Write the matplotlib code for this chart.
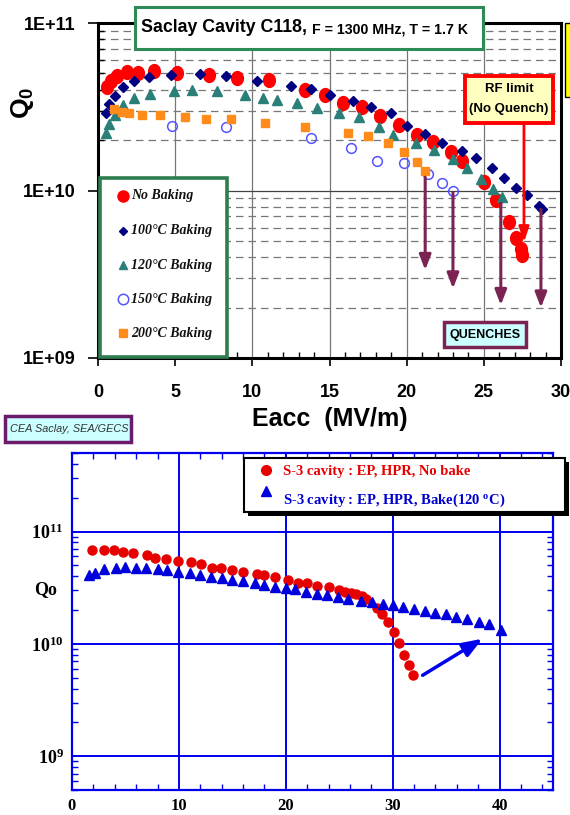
import numpy as np
import matplotlib
matplotlib.use('Agg')
import matplotlib.pyplot as plt
from matplotlib.patches import Rectangle
from matplotlib.lines import Line2D
from matplotlib.ticker import LogLocator, MultipleLocator, NullFormatter
from matplotlib.path import Path
from matplotlib.transforms import Affine2D

plt.rcParams['font.family'] = ['Liberation Sans', 'DejaVu Sans']
plt.rcParams['mathtext.fontset'] = 'custom'
plt.rcParams['mathtext.rm'] = 'Liberation Serif:bold'
plt.rcParams['mathtext.bf'] = 'Liberation Sans:bold'

# ---------------- data: top chart (Saclay C118) ----------------
nobake_x = [0.6, 0.85, 1.25, 1.9, 2.6, 3.6, 5.1, 7.2, 9.0, 11.1, 13.4, 14.7, 15.9, 17.1, 18.3,
            19.5, 20.7, 21.7, 22.9, 23.6, 25.0, 25.8, 26.6, 27.1, 27.4, 27.5]
nobake_q = [4.15e10, 4.5e10, 4.85e10, 5.1e10, 5.0e10, 5.15e10, 5.0e10, 4.9e10, 4.7e10, 4.55e10,
            4.0e10, 3.7e10, 3.35e10, 3.15e10, 2.8e10, 2.45e10, 2.15e10, 1.95e10, 1.7e10, 1.5e10,
            1.12e10, 8.8e9, 6.5e9, 5.2e9, 4.5e9, 4.1e9]

bake100_x = [0.5, 0.72, 1.1, 1.65, 2.35, 3.3, 4.7, 6.6, 8.3, 10.3, 12.5, 13.8, 15.0, 16.5, 17.7,
             19.0, 20.0, 21.2, 22.3, 23.6, 24.5, 25.5, 26.3, 27.1, 27.8, 28.6, 28.8]
bake100_q = [2.9e10, 3.28e10, 3.67e10, 4.15e10, 4.5e10, 4.75e10, 4.9e10, 4.95e10, 4.83e10, 4.5e10,
             4.2e10, 4.03e10, 3.72e10, 3.42e10, 3.15e10, 2.9e10, 2.43e10, 2.17e10, 1.92e10, 1.72e10,
             1.56e10, 1.36e10, 1.19e10, 1.04e10, 9.4e9, 8.1e9, 7.8e9]

bake120_x = [0.5, 0.73, 1.1, 1.6, 2.35, 3.4, 4.9, 6.1, 7.7, 9.5, 10.7, 11.6, 12.9, 14.2, 15.6,
             16.9, 18.2, 19.1, 20.6, 21.8, 23.0, 23.9, 24.8, 25.6, 26.2]
bake120_q = [2.2e10, 2.5e10, 2.82e10, 3.24e10, 3.57e10, 3.77e10, 3.93e10, 3.98e10, 3.9e10, 3.72e10,
             3.57e10, 3.47e10, 3.33e10, 3.11e10, 2.9e10, 2.75e10, 2.4e10, 2.14e10, 1.92e10, 1.74e10,
             1.55e10, 1.36e10, 1.17e10, 1.02e10, 9.1e9]

bake150_x = [4.8, 8.3, 13.8, 16.4, 18.1, 19.8, 21.4, 22.3, 23.0]
bake150_q = [2.43e10, 2.39e10, 2.06e10, 1.8e10, 1.5e10, 1.46e10, 1.26e10, 1.11e10, 1.0e10]

bake200_x = [1.04, 1.56, 2.0, 2.86, 4.0, 5.65, 7.0, 8.6, 10.8, 13.4, 16.2, 17.5, 18.8, 19.8, 20.7, 21.2]
bake200_q = [3.07e10, 2.95e10, 2.9e10, 2.82e10, 2.82e10, 2.75e10, 2.67e10, 2.67e10, 2.53e10, 2.4e10,
             2.2e10, 2.11e10, 1.92e10, 1.7e10, 1.48e10, 1.31e10]

quench_x = [21.2, 23.0, 26.1, 28.7]
quench_start = [1.2e10, 9.7e9, 8.4e9, 7.7e9]
quench_end = [3.35e9, 2.6e9, 2.07e9, 2.0e9]

rf_x = 27.6
rf_start = 2.5e10
rf_end = 4.9e9

top_xticks = [0, 5, 10, 15, 20, 25, 30]
top_yticks = [1e9, 1e10, 1e11]
top_yticklabels = ['1E+09', '1E+10', '1E+11']
top_legend = ['No Baking', '100°C Baking', '120°C Baking', '150°C Baking', '200°C Baking']

# ---------------- data: bottom chart (S-3 cavity) ----------------
s3_nobake_x = [1.9, 3.0, 3.9, 4.8, 5.7, 7.0, 7.75, 8.8, 9.9, 11.1, 12.1, 13.1, 13.9, 15.0, 16.0,
               17.3, 18.0, 19.0, 20.2, 21.1, 22.0, 22.9, 24.0, 25.0, 25.5, 26.1, 26.6, 27.1, 27.5,
               28.5, 29.0, 29.6, 30.1, 30.6, 31.1, 31.5, 31.9]
s3_nobake_q = [6.8e10, 6.9e10, 6.8e10, 6.6e10, 6.45e10, 6.16e10, 5.83e10, 5.7e10, 5.45e10, 5.33e10,
               5.09e10, 4.69e10, 4.69e10, 4.5e10, 4.38e10, 4.2e10, 4.09e10, 3.9e10, 3.68e10, 3.5e10,
               3.45e10, 3.27e10, 3.2e10, 3.01e10, 2.91e10, 2.85e10, 2.75e10, 2.66e10, 2.49e10,
               2.1e10, 1.83e10, 1.55e10, 1.27e10, 1.02e10, 7.9e9, 6.45e9, 5.25e9]

s3_bake_x = [1.6, 2.15, 3.0, 4.1, 5.0, 6.0, 6.9, 8.0, 8.9, 9.9, 11.0, 12.0, 13.0, 14.0, 15.0, 16.0,
             17.1, 18.0, 19.0, 20.0, 20.9, 21.9, 22.9, 23.9, 24.9, 25.8, 27.0, 28.1, 29.1, 30.0,
             31.0, 32.0, 33.0, 34.0, 35.0, 35.9, 37.0, 38.1, 39.0, 40.1]
s3_bake_q = [4.09e10, 4.3e10, 4.6e10, 4.69e10, 4.82e10, 4.69e10, 4.69e10, 4.6e10, 4.5e10, 4.35e10,
             4.3e10, 4.09e10, 3.96e10, 3.87e10, 3.69e10, 3.61e10, 3.45e10, 3.33e10, 3.2e10, 3.11e10,
             3.05e10, 2.91e10, 2.79e10, 2.71e10, 2.6e10, 2.52e10, 2.4e10, 2.35e10, 2.28e10, 2.21e10,
             2.14e10, 2.03e10, 1.96e10, 1.89e10, 1.86e10, 1.73e10, 1.65e10, 1.57e10, 1.49e10, 1.32e10]

arrow2_start = (32.8, 5.25e9)
arrow2_end = (38.4, 1.11e10)

bot_xticks = [0, 10, 20, 30, 40]
bot_yticks = [1e9, 1e10, 1e11]
bot_yticklabels = [r'$\mathrm{10^{9}}$', r'$\mathrm{10^{10}}$', r'$\mathrm{10^{11}}$']
bot_legend = ['S-3 cavity : EP, HPR, No bake', r'S-3 cavity : EP, HPR, Bake(120 $\mathrm{^{o}}$C)']

# ---------------- figure ----------------
W, H = 570, 815
fig = plt.figure(figsize=(W / 100, H / 100), dpi=100)


def fx(px):
    return px / W


def fy(py):
    return 1 - py / H


def rect_px(x0, y0, x1, y1, **kw):
    r = Rectangle((fx(x0), fy(y1)), (x1 - x0) / W, (y1 - y0) / H, transform=fig.transFigure, **kw)
    fig.add_artist(r)
    return r


# ====== top axes ======
ax = fig.add_axes([fx(98), fy(358), (561 - 98) / W, (358 - 23) / H])
ax.set_yscale('log')
ax.set_xlim(0, 30)
ax.set_ylim(1e9, 1e11)

ax.yaxis.set_minor_locator(LogLocator(base=10, subs=np.arange(2, 10)))
ax.yaxis.set_minor_formatter(NullFormatter())
ax.set_yticks(top_yticks)
ax.set_yticklabels(top_yticklabels, fontsize=13, fontweight='bold')
ax.set_xticks(top_xticks)
ax.set_xticklabels([str(t) for t in top_xticks], fontsize=13, fontweight='bold')
ax.xaxis.set_minor_locator(MultipleLocator(1))
ax.tick_params(axis='x', which='major', direction='out', length=6, width=1.2, pad=13)
ax.tick_params(axis='y', which='major', direction='out', length=7, width=1.2, pad=9)
ax.tick_params(which='minor', direction='in', length=4, width=1)
for s in ax.spines.values():
    s.set_linewidth(2.2)
    s.set_color('black')

ax.grid(which='minor', axis='y', color='#777777', ls=(0, (6, 4)), lw=0.9)
ax.grid(which='major', axis='y', color='#444444', ls='-', lw=0.9)
ax.grid(which='major', axis='x', color='#777777', ls='-', lw=0.9)
ax.set_axisbelow(True)

ell = Path.unit_circle().transformed(Affine2D().scale(0.85, 1.0))
ax.plot(nobake_x, nobake_q, ls='none', marker=ell, ms=10, color='#FF0000', mec='#FF0000', zorder=3)
ax.plot(bake100_x, bake100_q, ls='none', marker='D', ms=5, color='#000080', zorder=4)
ax.plot(bake120_x, bake120_q, ls='none', marker='^', ms=6.5, color='#2A7F78', zorder=4)
ax.plot(bake150_x, bake150_q, ls='none', marker='o', ms=7, mfc='none', mec='#5555FF', mew=1.1, zorder=4)
ax.plot(bake200_x, bake200_q, ls='none', marker='s', ms=5.5, color='#FF8C1A', zorder=4)

qcol = '#7B2352'
for x, y0, y1 in zip(quench_x, quench_start, quench_end):
    ax.annotate('', xy=(x, y1), xytext=(x, y0),
                arrowprops=dict(arrowstyle='-|>,head_length=0.9,head_width=0.35', color=qcol, lw=2.2,
                                shrinkA=0, shrinkB=0), zorder=5)
ax.annotate('', xy=(rf_x, rf_end), xytext=(rf_x, rf_start),
            arrowprops=dict(arrowstyle='-|>,head_length=0.9,head_width=0.3', color='#FF0000', lw=2,
                            shrinkA=0, shrinkB=0), zorder=5)

# overlays top
rect_px(135, 7, 483, 49, facecolor='white', edgecolor='#2E8B57', lw=2.2, zorder=5)
t1 = fig.text(fx(141), fy(28), 'Saclay Cavity C118,', fontsize=12.8, fontweight='bold', va='center', zorder=6)
fig.canvas.draw()
bb = t1.get_window_extent(fig.canvas.get_renderer())
fig.text(bb.x1 / W + 5 / W, fy(29), 'F = 1300 MHz, T = 1.7 K', fontsize=10.2, fontweight='bold',
         va='center', zorder=6)

rect_px(565, 23, 575, 97, facecolor='#FFFF00', edgecolor='black', lw=1, zorder=5)

rect_px(465, 76, 553, 123, facecolor='#FFFFC0', edgecolor='#FF0000', lw=2.8, zorder=5)
fig.text(fx(509), fy(89), 'RF limit', fontsize=9.5, fontweight='bold', ha='center', va='center', zorder=6)
fig.text(fx(509), fy(109), '(No Quench)', fontsize=9.5, fontweight='bold', ha='center', va='center', zorder=6)

rect_px(444, 322, 526, 347, facecolor='#CCFFFF', edgecolor=qcol, lw=2.5, zorder=5)
fig.text(fx(485), fy(334.5), 'QUENCHES', fontsize=9, fontweight='bold', ha='center', va='center', zorder=6)

# top legend
rect_px(100, 178, 227, 357, facecolor='white', edgecolor='#2E7D4F', lw=2.6, zorder=5)
leg_y = [196, 231, 265, 299, 333]
leg_style = [dict(marker='o', ms=8, color='#FF0000', mec='#FF0000'),
             dict(marker='D', ms=4, color='#000080'),
             dict(marker='^', ms=6, color='#2A7F78'),
             dict(marker='o', ms=7.5, mfc='none', mec='#5555FF', mew=1.1),
             dict(marker='s', ms=6, color='#FF8C1A')]
for yy, lab, st in zip(leg_y, top_legend, leg_style):
    fig.add_artist(Line2D([fx(123)], [fy(yy)], transform=fig.transFigure, ls='none', zorder=6, **st))
    fig.text(fx(131), fy(yy), lab, family=['Liberation Serif', 'DejaVu Serif'], style='italic',
             fontweight='bold', fontsize=10, va='center', zorder=6, color='#111111')

fig.text(fx(330), fy(419), 'Eacc  (MV/m)', fontsize=18, fontweight='bold', ha='center', va='center')
fig.text(fx(23), fy(103), r'$\mathbf{Q}_{\mathbf{0}}$', fontsize=19, rotation=90, ha='center', va='center')

rect_px(5, 416, 131, 442, facecolor='#CCFFFF', edgecolor='#6A1B6A', lw=2.5, zorder=5)
fig.text(fx(10), fy(429), 'CEA Saclay, SEA/GECS', fontsize=7.8, style='italic', color='#333333',
         va='center', zorder=6)

# ====== bottom axes ======
blue = '#0000EE'
ax2 = fig.add_axes([fx(72), fy(790), (553 - 72) / W, (790 - 453) / H])
ax2.set_yscale('log')
ax2.set_xlim(0, 45)
ax2.set_ylim(5e8, 5e11)
ax2.yaxis.set_minor_locator(LogLocator(base=10, subs=np.arange(2, 10)))
ax2.yaxis.set_minor_formatter(NullFormatter())
ax2.set_yticks(bot_yticks)
ax2.set_yticklabels(bot_yticklabels, fontsize=13)
ax2.set_xticks(bot_xticks)
ax2.set_xticklabels([str(t) for t in bot_xticks], family=['Liberation Serif'], fontweight='bold', fontsize=12)
ax2.xaxis.set_minor_locator(MultipleLocator(2))
ax2.tick_params(which='both', direction='in', color=blue, top=True, right=True)
ax2.tick_params(which='major', length=0, pad=6)
ax2.tick_params(which='minor', length=4, width=1)
for s in ax2.spines.values():
    s.set_linewidth(1.6)
    s.set_color(blue)
ax2.grid(which='major', color=blue, lw=1.4)
ax2.set_axisbelow(True)

ax2.plot(s3_nobake_x, s3_nobake_q, ls='none', marker='o', ms=6.5, color='#E60000', zorder=3)
ax2.plot(s3_bake_x, s3_bake_q, ls='none', marker='^', ms=6.5, color='#0000DD', zorder=3)
ax2.annotate('', xy=arrow2_end, xytext=arrow2_start,
             arrowprops=dict(arrowstyle='-|>,head_length=1.2,head_width=0.45', color='#0000EE', lw=2.5,
                             shrinkA=0, shrinkB=0), zorder=4)

fig.text(fx(46), fy(590), 'Qo', family=['Liberation Serif'], fontweight='bold', fontsize=13,
         ha='center', va='center')

# bottom legend
rect_px(248, 462, 569, 516, facecolor='black', edgecolor='black', lw=0, zorder=5)
rect_px(244, 458, 565, 512, facecolor='white', edgecolor='black', lw=1.5, zorder=5)
fig.add_artist(Line2D([fx(266)], [fy(470)], transform=fig.transFigure, ls='none', marker='o', ms=7,
                      color='#E60000', zorder=6))
fig.add_artist(Line2D([fx(266)], [fy(491)], transform=fig.transFigure, ls='none', marker='^', ms=7,
                      color='#0000DD', zorder=6))
fig.text(fx(283), fy(472), bot_legend[0], family=['Liberation Serif'], fontweight='bold', fontsize=10.5,
         color='#E60000', va='center', zorder=6)
fig.text(fx(283), fy(500), bot_legend[1], family=['Liberation Serif'], fontweight='bold', fontsize=10.5,
         color='#0000CC', va='center', zorder=6)

fig.savefig('out.png', dpi=100)
